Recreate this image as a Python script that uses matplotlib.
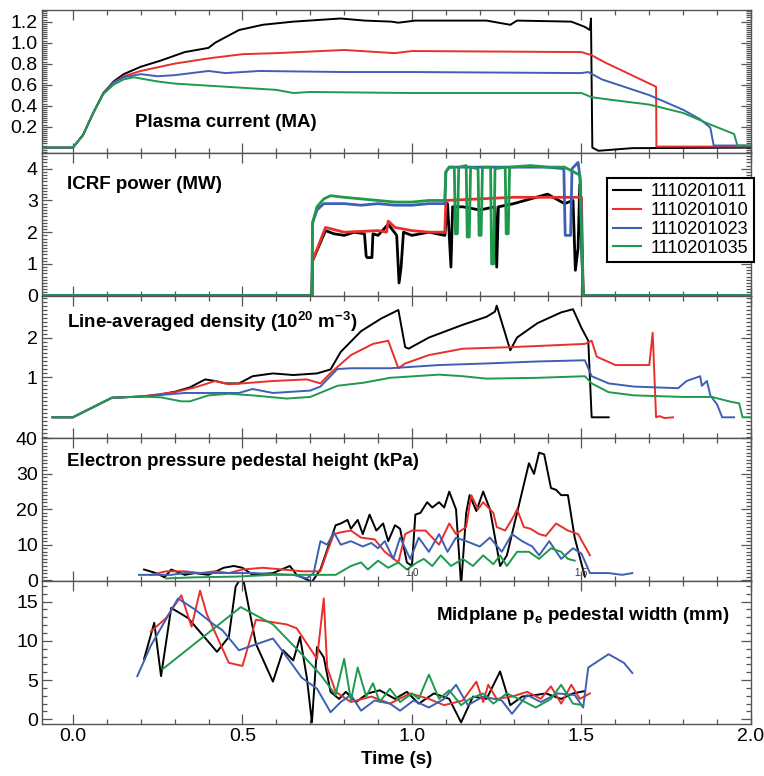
import matplotlib
matplotlib.use("Agg")
import matplotlib.pyplot as plt
from matplotlib.ticker import MultipleLocator

plt.rcParams['font.family'] = ['Liberation Sans', 'DejaVu Sans']

shots = ['1110201011', '1110201010', '1110201023', '1110201035']
colors = ['#000000', '#e8302a', '#3d5fb4', '#1f9a4c']

# ---- plasma current (MA)
ip_t_011 = [-0.09, 0.0, 0.03, 0.06, 0.09, 0.12, 0.15, 0.2, 0.26, 0.33, 0.40, 0.42, 0.49, 0.56, 0.65,
            0.79, 0.86, 0.94, 0.96, 1.01, 1.22, 1.29, 1.31, 1.47, 1.51, 1.525, 1.528, 1.532, 1.55, 1.65, 2.0]
ip_011 = [0.0, 0.0, 0.12, 0.33, 0.52, 0.63, 0.7, 0.77, 0.83, 0.91, 0.95, 1.0, 1.12, 1.17, 1.2,
          1.23, 1.21, 1.2, 1.19, 1.21, 1.21, 1.17, 1.21, 1.2, 1.15, 1.12, 1.23, 0.0, -0.03, -0.005, 0.0]
ip_t_010 = [-0.09, 0.0, 0.03, 0.06, 0.09, 0.12, 0.15, 0.2, 0.3, 0.4, 0.45, 0.5, 0.6, 0.8, 0.95,
            1.0, 1.5, 1.53, 1.57, 1.72, 1.721, 2.0]
ip_010 = [0.0, 0.0, 0.12, 0.33, 0.52, 0.62, 0.68, 0.73, 0.8, 0.85, 0.87, 0.89, 0.9, 0.93, 0.9,
          0.92, 0.91, 0.88, 0.81, 0.58, 0.01, 0.01]
ip_t_023 = [-0.09, 0.0, 0.03, 0.06, 0.09, 0.12, 0.15, 0.2, 0.25, 0.3, 0.4, 0.45, 0.55, 0.8, 1.0,
            1.5, 1.52, 1.56, 1.7, 1.8, 1.85, 1.88, 1.89, 2.0]
ip_023 = [0.0, 0.0, 0.12, 0.33, 0.52, 0.62, 0.67, 0.7, 0.68, 0.69, 0.73, 0.71, 0.73, 0.72, 0.72,
          0.71, 0.72, 0.65, 0.5, 0.36, 0.27, 0.19, 0.02, 0.02]
ip_t_035 = [-0.09, 0.0, 0.03, 0.06, 0.09, 0.12, 0.15, 0.18, 0.25, 0.3, 0.4, 0.5, 0.6, 0.65, 0.7,
            1.0, 1.5, 1.53, 1.6, 1.7, 1.8, 1.88, 1.95, 1.96, 2.0]
ip_035 = [0.0, 0.0, 0.12, 0.33, 0.51, 0.6, 0.65, 0.67, 0.63, 0.61, 0.59, 0.57, 0.55, 0.52, 0.53,
          0.52, 0.52, 0.48, 0.45, 0.41, 0.33, 0.22, 0.13, 0.02, 0.02]

# ---- ICRF power (MW)
rf_t_011 = [-0.09, 0.705, 0.707, 0.745, 0.77, 0.8, 0.83, 0.86, 0.865, 0.868, 0.882, 0.885, 0.9, 0.93,
            0.955, 0.962, 0.968, 0.975, 1.0, 1.05, 1.097, 1.105, 1.115, 1.12, 1.15, 1.2, 1.245, 1.25,
            1.255, 1.3, 1.35, 1.4, 1.45, 1.475, 1.482, 1.49, 1.495, 1.505, 2.0]
rf_011 = [0.0, 0.0, 1.1, 2.05, 1.95, 1.9, 2.0, 1.95, 1.25, 1.2, 1.2, 1.95, 1.9, 2.25,
          1.9, 0.4, 0.9, 2.0, 1.9, 2.0, 1.9, 2.9, 0.9, 2.8, 2.8, 2.7, 2.8, 0.9,
          2.8, 2.9, 3.05, 3.2, 2.9, 3.0, 0.8, 1.5, 3.5, 0.0, 0.0]
rf_t_010 = [-0.09, 0.705, 0.707, 0.745, 0.8, 0.9, 0.925, 0.93, 0.95, 1.0, 1.05, 1.097, 1.1, 1.2,
            1.3, 1.4, 1.5, 1.505, 2.0]
rf_010 = [0.0, 0.0, 1.1, 2.15, 2.0, 2.05, 2.0, 2.35, 2.15, 2.05, 2.0, 2.0, 3.0, 3.05,
          3.1, 3.1, 3.1, 0.0, 0.0]
rf_t_023 = [-0.09, 0.705, 0.707, 0.72, 0.74, 0.8, 0.85, 0.9, 0.95, 1.0, 1.05, 1.097, 1.1, 1.11,
            1.2, 1.3, 1.4, 1.448, 1.452, 1.468, 1.472, 1.49, 1.497, 1.505, 2.0]
rf_023 = [0.0, 0.0, 2.3, 2.7, 2.9, 2.9, 2.85, 2.9, 2.85, 2.85, 2.9, 2.9, 3.9, 4.05,
          4.05, 4.05, 4.05, 4.0, 1.9, 1.9, 4.0, 4.2, 3.6, 0.0, 0.0]
rf_t_035 = [-0.09, 0.705, 0.707, 0.72, 0.74, 0.76, 0.8, 0.85, 0.9, 0.95, 1.0, 1.05, 1.097, 1.1,
            1.11, 1.125, 1.128, 1.134, 1.138, 1.16, 1.163, 1.169, 1.173, 1.195, 1.198, 1.204,
            1.208, 1.232, 1.235, 1.241, 1.245, 1.275, 1.278, 1.284, 1.288, 1.35, 1.4, 1.45,
            1.495, 1.505, 2.0]
rf_035 = [0.0, 0.0, 2.3, 2.8, 3.05, 3.15, 3.1, 3.05, 3.0, 2.95, 2.95, 3.0, 3.0, 3.9,
          4.05, 4.05, 1.95, 1.95, 4.05, 4.1, 1.85, 1.85, 4.05, 4.0, 1.9, 1.9,
          4.05, 4.05, 1.0, 1.0, 4.0, 4.05, 1.95, 1.95, 4.05, 4.1, 4.05, 4.05,
          3.8, 0.0, 0.0]

# ---- line-averaged density (1e20 m^-3)
ne_t_011 = [-0.06, 0.0, 0.115, 0.2, 0.25, 0.3, 0.345, 0.39, 0.42, 0.45, 0.49, 0.53, 0.59, 0.65, 0.72,
            0.76, 0.79, 0.85, 0.91, 0.96, 0.98, 0.99, 1.05, 1.15, 1.22, 1.245, 1.25, 1.29, 1.31,
            1.37, 1.44, 1.475, 1.5, 1.52, 1.53, 1.58]
ne_011 = [0.0, 0.0, 0.49, 0.52, 0.56, 0.64, 0.75, 0.95, 0.91, 0.85, 0.85, 1.03, 1.1, 1.06, 1.1,
          1.2, 1.64, 2.16, 2.48, 2.69, 1.76, 1.72, 2.0, 2.32, 2.52, 2.65, 2.8, 1.68, 2.0,
          2.36, 2.63, 2.71, 2.24, 1.92, 0.0, 0.0]
ne_t_010 = [-0.06, 0.0, 0.115, 0.2, 0.3, 0.36, 0.42, 0.46, 0.5, 0.59, 0.69, 0.73, 0.76, 0.82, 0.885,
            0.93, 0.96, 0.98, 1.05, 1.15, 1.295, 1.51, 1.53, 1.545, 1.6, 1.7, 1.71, 1.72, 1.73,
            1.745, 1.77]
ne_010 = [0.0, 0.0, 0.49, 0.52, 0.63, 0.75, 0.91, 0.83, 0.85, 0.91, 0.95, 0.85, 1.11, 1.56, 1.84,
          1.92, 1.23, 1.35, 1.56, 1.72, 1.76, 1.84, 1.92, 1.52, 1.31, 1.31, 2.12, 0.0, 0.03,
          -0.02, 0.0]
ne_t_023 = [-0.06, 0.0, 0.115, 0.2, 0.26, 0.33, 0.43, 0.49, 0.53, 0.59, 0.7, 0.73, 0.78, 0.82, 0.935,
            1.08, 1.22, 1.37, 1.51, 1.53, 1.58, 1.655, 1.785, 1.81, 1.85, 1.855, 1.87, 1.88, 1.9,
            1.915, 1.95]
ne_023 = [0.0, 0.0, 0.49, 0.52, 0.56, 0.61, 0.61, 0.61, 0.71, 0.61, 0.67, 0.77, 1.21, 1.23, 1.23,
          1.31, 1.35, 1.4, 1.43, 1.03, 0.85, 0.77, 0.73, 0.91, 1.03, 0.79, 0.91, 0.55, 0.32,
          0.0, 0.0]
ne_t_035 = [-0.06, 0.0, 0.115, 0.2, 0.26, 0.32, 0.345, 0.4, 0.46, 0.53, 0.63, 0.7, 0.78, 0.86, 0.935,
            1.08, 1.15, 1.22, 1.37, 1.51, 1.53, 1.58, 1.655, 1.8, 1.885, 1.94, 1.965, 1.975, 2.0]
ne_035 = [0.0, 0.0, 0.49, 0.52, 0.5, 0.4, 0.4, 0.55, 0.59, 0.55, 0.47, 0.51, 0.79, 0.87, 0.99,
          1.07, 1.03, 0.97, 0.99, 1.03, 0.85, 0.63, 0.55, 0.51, 0.51, 0.39, 0.35, 0.0, 0.0]

# ---- electron pressure pedestal height (kPa)
pe_t_011 = [0.21, 0.245, 0.27, 0.29, 0.33, 0.36, 0.4, 0.445, 0.475, 0.5, 0.53, 0.59, 0.64, 0.66,
            0.705, 0.73, 0.775, 0.79, 0.81, 0.82, 0.84, 0.855, 0.875, 0.895, 0.915, 0.93, 0.95,
            0.965, 0.985, 1.0, 1.01, 1.025, 1.045, 1.06, 1.08, 1.095, 1.11, 1.13, 1.145, 1.16,
            1.17, 1.19, 1.21, 1.23, 1.26, 1.28, 1.3, 1.325, 1.345, 1.36, 1.375, 1.39, 1.41,
            1.425, 1.44, 1.46, 1.48, 1.51]
pe_011 = [3.0, 2.0, 0.8, 3.0, 1.5, 2.0, 1.5, 3.5, 4.0, 3.5, 1.5, 2.0, 4.0, 1.5,
          -0.5, 3.0, 15.5, 16.0, 17.0, 14.5, 17.0, 13.0, 18.5, 14.0, 16.0, 11.0, 15.5,
          14.5, 5.0, 4.0, 18.5, 19.0, 22.0, 20.5, 22.0, 20.5, 25.0, 20.0, -1.5, 19.0,
          24.0, 19.5, 25.0, 20.0, 4.0, 7.0, 15.0, 25.0, 33.0, 30.0, 36.0, 35.5, 26.0,
          25.5, 24.0, 24.0, 12.0, 1.0]
pe_t_010 = [0.23, 0.275, 0.33, 0.375, 0.42, 0.46, 0.5, 0.56, 0.62, 0.675, 0.73, 0.75, 0.77, 0.79,
            0.82, 0.85, 0.89, 0.92, 0.96, 0.98, 1.0, 1.04, 1.08, 1.11, 1.13, 1.16, 1.175, 1.195,
            1.21, 1.24, 1.25, 1.275, 1.3, 1.31, 1.33, 1.35, 1.375, 1.395, 1.425, 1.46, 1.49, 1.525]
pe_010 = [1.5, 2.5, 2.5, 2.0, 2.5, 2.0, 3.0, 3.5, 3.0, 2.5, 2.5, 8.0, 13.0, 13.5,
          14.0, 12.0, 11.5, 8.0, 5.0, 13.0, 14.0, 14.0, 10.0, 16.0, 13.0, 15.0, 24.0, 20.0,
          22.0, 19.0, 15.0, 14.0, 18.0, 20.0, 15.0, 14.5, 13.0, 12.5, 16.0, 14.0, 13.0, 7.0]
pe_t_023 = [0.195, 0.245, 0.29, 0.33, 0.42, 0.53, 0.65, 0.69, 0.71, 0.73, 0.75, 0.77, 0.79, 0.82,
            0.855, 0.88, 0.9, 0.92, 0.945, 0.965, 0.995, 1.02, 1.05, 1.08, 1.105, 1.13, 1.16,
            1.2, 1.23, 1.265, 1.295, 1.325, 1.355, 1.375, 1.405, 1.44, 1.475, 1.5, 1.525, 1.58,
            1.62, 1.65]
pe_023 = [1.5, 1.5, 1.5, 2.0, 2.0, 2.0, 1.5, 0.5, 2.0, 11.0, 10.0, 13.5, 10.0, 11.0,
          9.5, 10.5, 9.0, 11.0, 6.0, 12.0, 6.0, 12.0, 8.0, 13.0, 8.0, 12.0, 11.0,
          9.5, 12.0, 8.0, 13.0, 11.0, 9.5, 7.0, 11.0, 6.0, 9.0, 7.5, 2.0, 2.0,
          1.5, 2.0]
pe_t_035 = [0.275, 0.36, 0.48, 0.59, 0.705, 0.775, 0.82, 0.85, 0.87, 0.9, 0.93, 0.96, 0.985,
            1.015, 1.035, 1.06, 1.085, 1.115, 1.15, 1.18, 1.21, 1.24, 1.26, 1.28, 1.31, 1.345,
            1.375, 1.41, 1.44, 1.46, 1.48]
pe_035 = [0.5, 0.8, 1.0, 1.5, 1.5, 1.5, 4.0, 5.0, 3.0, 5.5, 3.5, 5.0, 3.0,
          5.0, 6.0, 4.0, 7.0, 4.0, 6.0, 4.0, 7.0, 4.5, 7.0, 4.0, 8.0, 8.0,
          6.0, 9.0, 8.0, 6.0, 5.5]

# ---- midplane pe pedestal width (mm)
w_t_011 = [0.21, 0.24, 0.26, 0.29, 0.34, 0.425, 0.46, 0.48, 0.5, 0.54, 0.59, 0.62, 0.65, 0.67,
           0.69, 0.705, 0.72, 0.74, 0.76, 0.785, 0.805, 0.835, 0.87, 0.905, 0.95, 0.985, 1.02,
           1.065, 1.11, 1.145, 1.18, 1.22, 1.26, 1.29, 1.325, 1.365, 1.395, 1.44, 1.475, 1.51]
w_011 = [7.7, 12.3, 5.5, 14.2, 12.9, 8.6, 10.5, 16.9, 18.4, 9.6, 4.8, 8.8, 7.5, 10.5,
         5.3, -0.4, 9.2, 7.9, 3.5, 2.6, 3.5, 2.2, 3.3, 3.7, 2.6, 3.5, 2.0,
         3.3, 2.6, -0.4, 2.9, 2.6, 6.1, 1.8, 2.9, 3.1, 3.3, 2.6, 3.3, 3.6]
w_t_010 = [0.23, 0.275, 0.32, 0.35, 0.375, 0.395, 0.46, 0.5, 0.54, 0.63, 0.66, 0.72, 0.74, 0.75,
           0.775, 0.82, 0.88, 0.935, 0.995, 1.05, 1.095, 1.15, 1.19, 1.21, 1.225, 1.25, 1.295,
           1.34, 1.38, 1.41, 1.44, 1.47, 1.495, 1.525]
w_010 = [11.2, 12.9, 15.8, 11.8, 16.4, 13.4, 7.2, 6.8, 12.7, 12.1, 11.6, 7.7, 15.4, 6.6,
         3.5, 2.2, 2.9, 2.0, 3.3, 2.6, 1.8, 2.4, 4.8, 2.2, 4.4, 2.6, 2.9,
         3.5, 2.6, 4.2, 2.0, 4.4, 2.6, 3.3]
w_t_023 = [0.19, 0.23, 0.31, 0.36, 0.415, 0.44, 0.49, 0.59, 0.62, 0.675, 0.72, 0.76, 0.79, 0.82,
           0.85, 0.89, 0.935, 0.965, 1.005, 1.05, 1.095, 1.13, 1.165, 1.21, 1.265, 1.295, 1.34,
           1.38, 1.43, 1.48, 1.505, 1.52, 1.58, 1.625, 1.65]
w_023 = [5.5, 9.4, 15.4, 14.0, 12.1, 11.4, 8.8, 10.3, 8.6, 5.3, 3.9, 0.9, 2.2, 3.1,
         1.1, 2.4, 2.0, 1.1, 2.4, 1.5, 2.6, 4.4, 1.8, 2.9, 2.4, 0.7, 3.1,
         2.2, 3.3, 3.1, 1.5, 6.6, 8.3, 7.2, 5.9]
w_t_035 = [0.265, 0.495, 0.59, 0.675, 0.73, 0.775, 0.8, 0.82, 0.84, 0.865, 0.885, 0.905, 0.935,
           0.965, 1.0, 1.02, 1.05, 1.08, 1.11, 1.145, 1.17, 1.21, 1.24, 1.28, 1.325, 1.365,
           1.41, 1.44, 1.475, 1.505]
w_035 = [6.4, 14.3, 12.1, 8.3, 5.7, 3.1, 7.7, 2.4, 6.6, 2.9, 4.6, 2.2, 3.9,
         2.2, 3.3, 2.6, 5.7, 2.6, 3.7, 1.8, 2.6, 3.3, 2.0, 3.3, 2.4, 1.5,
         2.6, 4.4, 2.0, 1.8]

panels = [
    ([ip_t_011, ip_t_010, ip_t_023, ip_t_035], [ip_011, ip_010, ip_023, ip_035]),
    ([rf_t_011, rf_t_010, rf_t_023, rf_t_035], [rf_011, rf_010, rf_023, rf_035]),
    ([ne_t_011, ne_t_010, ne_t_023, ne_t_035], [ne_011, ne_010, ne_023, ne_035]),
    ([pe_t_011, pe_t_010, pe_t_023, pe_t_035], [pe_011, pe_010, pe_023, pe_035]),
    ([w_t_011, w_t_010, w_t_023, w_t_035], [w_011, w_010, w_023, w_035]),
]

ylims = [(-0.05, 1.31), (0.0, 4.5), (-0.53, 3.05), (-0.3, 40.0), (-0.6, 17.6)]
yticks = [[0.2, 0.4, 0.6, 0.8, 1.0, 1.2], [0, 1, 2, 3, 4], [1, 2], [0, 10, 20, 30, 40], [0, 5, 10, 15]]
yticklabels = [['0.2', '0.4', '0.6', '0.8', '1.0', '1.2'], ['0', '1', '2', '3', '4'], ['1', '2'],
               ['0', '10', '20', '30', '40'], ['0', '5', '10', '15']]
yminor = [0.02, 0.1, 0.1, 1.0, 1.0]
line_w = [1.4, 2.0, 1.4, 1.4, 1.4]

fig, axes = plt.subplots(5, 1, sharex=True, figsize=(7.64, 7.76), dpi=100)
fig.subplots_adjust(left=0.055, right=0.983, top=0.987, bottom=0.067, hspace=0)

for i, ax in enumerate(axes):
    ts, vs = panels[i]
    for t, v, c, s in zip(ts, vs, colors, shots):
        ax.plot(t, v, color=c, lw=line_w[i], label=s)
    ax.set_xlim(-0.091, 2.0)
    ax.set_ylim(*ylims[i])
    ax.set_yticks(yticks[i])
    ax.set_yticklabels(yticklabels[i])
    ax.yaxis.set_minor_locator(MultipleLocator(yminor[i]))
    ax.xaxis.set_major_locator(MultipleLocator(0.5))
    ax.xaxis.set_minor_locator(MultipleLocator(0.1))
    ax.tick_params(which='both', direction='in', top=True, right=True, color='#555555', width=0.9)
    ax.tick_params(which='major', length=7, labelsize=14, pad=3)
    ax.tick_params(which='minor', length=3.5)
    for sp in ax.spines.values():
        sp.set_color('#555555')
        sp.set_linewidth(1.0)

axes[-1].set_xticks([0.0, 0.5, 1.0, 1.5, 2.0])
axes[-1].set_xticklabels(['0.0', '0.5', '1.0', '1.5', '2.0'])
axes[-1].set_xlabel('Time (s)', fontsize=13.5, fontweight='bold', labelpad=4)

lab = dict(fontsize=13.5, fontweight='bold', va='center')
axes[0].text(0.131, 0.21, 'Plasma current (MA)', transform=axes[0].transAxes, ha='left', **lab)
axes[1].text(0.035, 0.775, 'ICRF power (MW)', transform=axes[1].transAxes, ha='left', **lab)
axes[2].text(0.035, 0.816, r'Line-averaged density (10$^{\mathregular{20}}$ m$^{\mathregular{-3}}$)',
             transform=axes[2].transAxes, ha='left', **lab)
axes[3].text(0.035, 0.84, 'Electron pressure pedestal height (kPa)', transform=axes[3].transAxes,
             ha='left', **lab)
axes[4].text(0.97, 0.76, r'Midplane p$_{\mathregular{e}}$ pedestal width (mm)',
             transform=axes[4].transAxes, ha='right', **lab)

# small tick labels left inside the pressure panel
for xv, s in [(1.0, '1.0'), (1.5, '1.5')]:
    axes[3].text(xv, 0.6, s, fontsize=7, ha='center', va='bottom', color='#333333')

leg = axes[1].legend(loc='upper left', bbox_to_anchor=(0.797, 0.825), fontsize=13,
                     frameon=True, fancybox=False, handlelength=1.6, handletextpad=0.5,
                     borderpad=0.3, labelspacing=0.1, borderaxespad=0)
leg.get_frame().set_edgecolor('black')
leg.get_frame().set_linewidth(1.5)
leg.get_frame().set_alpha(1)
for h in leg.get_lines():
    h.set_linewidth(1.5)

fig.savefig('out.png', dpi=100, facecolor='white')
